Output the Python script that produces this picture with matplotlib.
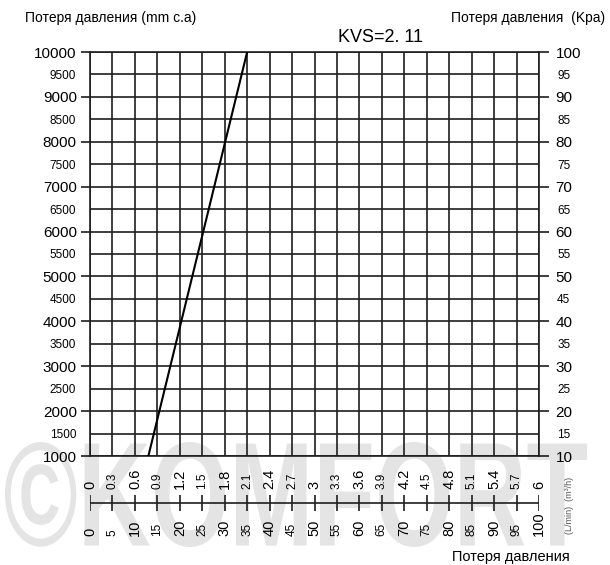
import matplotlib
matplotlib.use("Agg")
import matplotlib.pyplot as plt
from matplotlib.ticker import MultipleLocator, FuncFormatter
from matplotlib.textpath import TextPath
from matplotlib.patches import PathPatch
from matplotlib.font_manager import FontProperties
from matplotlib.transforms import Affine2D

plt.rcParams["font.family"] = ["Liberation Sans", "DejaVu Sans"]

# ---------------------------------------------------------------- data
kvs_label = "KVS=2. 11"
flow_lmin = [13.0, 35.0]          # L/min
loss_mm = [1000, 10000]           # mm c.a

lmin_ticks = list(range(0, 101, 5))
m3h_labels = ["0", "0.3", "0.6", "0.9", "1.2", "1.5", "1.8", "2.1", "2.4",
              "2.7", "3", "3.3", "3.6", "3.9", "4.2", "4.5", "4.8", "5.1",
              "5.4", "5.7", "6"]
lmin_labels = [str(v) for v in lmin_ticks]

GRID = "#1e1e1e"
W, H = 610, 565

fig = plt.figure(figsize=(W / 100, H / 100), dpi=100)

# watermark behind everything
tp = TextPath((0, 0), "\u00a9KOMFORT", size=1,
              prop=FontProperties(family="Liberation Sans", weight="bold"))
bb = tp.get_extents()
x0, x1, y0, y1 = 5 / W, 587 / W, 1 - 547 / H, 1 - 442 / H
tr = (Affine2D().translate(-bb.x0, -bb.y0)
      .scale((x1 - x0) / bb.width, (y1 - y0) / bb.height)
      .translate(x0, y0))
wm = PathPatch(tr.transform_path(tp), transform=fig.transFigure,
               facecolor="#e4e4e4", edgecolor="none", zorder=-5)
fig.add_artist(wm)

# ---------------------------------------------------------------- main grid
L, R, B, T = 90 / W, 539 / W, 1 - 456 / H, 1 - 52 / H
ax = fig.add_axes([L, B, R - L, T - B])
ax.set_facecolor("none")
ax.plot(flow_lmin, loss_mm, color="black", lw=1.5, zorder=3)
ax.set_xlim(0, 100)
ax.set_ylim(1000, 10000)

ax.xaxis.set_major_locator(MultipleLocator(5))
ax.tick_params(axis="x", which="both", length=0, labelbottom=False)
ax.yaxis.set_major_locator(MultipleLocator(1000))
ax.yaxis.set_minor_locator(MultipleLocator(500))
ax.yaxis.set_minor_formatter(FuncFormatter(lambda v, p: f"{v:.0f}"))
ax.tick_params(axis="y", which="major", length=6.5, width=1.2, color=GRID,
               pad=3, labelsize=11)
ax.tick_params(axis="y", which="minor", length=0, pad=10, labelsize=8.5)
ax.grid(which="both", color=GRID, lw=1.2)
for s in ax.spines.values():
    s.set_color(GRID)
    s.set_linewidth(1.2)

axr = ax.twinx()
axr.set_ylim(10, 100)
axr.yaxis.set_major_locator(MultipleLocator(10))
axr.yaxis.set_minor_locator(MultipleLocator(5))
axr.yaxis.set_minor_formatter(FuncFormatter(lambda v, p: f"{v:.0f}"))
axr.tick_params(axis="y", which="major", length=7, width=1.2, color=GRID,
                pad=5, labelsize=11)
axr.tick_params(axis="y", which="minor", length=0, pad=13, labelsize=8.5)
for s in axr.spines.values():
    s.set_visible(False)

# ---------------------------------------------------------------- flow scale
line_y = 1 - 503 / H
axs = fig.add_axes([L, line_y - 0.03, R - L, 0.06])
axs.set_xlim(0, 100)
axs.set_ylim(-1, 1)
axs.axis("off")
axs.axhline(0, color=GRID, lw=1.2)
half = 8 / (0.06 * H) * 2          # ~8 px each side
axs.vlines(lmin_ticks, -half, half, color=GRID, lw=1.2)
for i, (x, top, bot) in enumerate(zip(lmin_ticks, m3h_labels, lmin_labels)):
    big = i % 2 == 0
    axs.annotate(top, (x, 0), xytext=(0, 10), textcoords="offset points",
                 rotation=90, ha="center", va="bottom",
                 fontsize=10.5 if big else 8.5)
    axs.annotate(bot, (x, 0), xytext=(0, -24), textcoords="offset points",
                 rotation=90, ha="center", va="bottom",
                 fontsize=10.5 if big else 8.5)

# ---------------------------------------------------------------- texts
fig.text(25 / W, 1 - 18 / H, "Потеря давления (mm c.a)", fontsize=10,
         ha="left", va="center")
fig.text(605 / W, 1 - 18 / H, "Потеря давления  (Kpa)", fontsize=10,
         ha="right", va="center")
fig.text(381 / W, 1 - 38 / H, kvs_label, fontsize=13, ha="center",
         va="center")
fig.text(570 / W, 1 - 557 / H, "Потеря давления", fontsize=10.5,
         ha="right", va="center")
fig.text(569 / W, 1 - 505 / H, "(L/min)  (m\u00b3/h)", fontsize=6.5,
         rotation=90, ha="center", va="center", color="#555555")

fig.savefig("out.png", dpi=100)
